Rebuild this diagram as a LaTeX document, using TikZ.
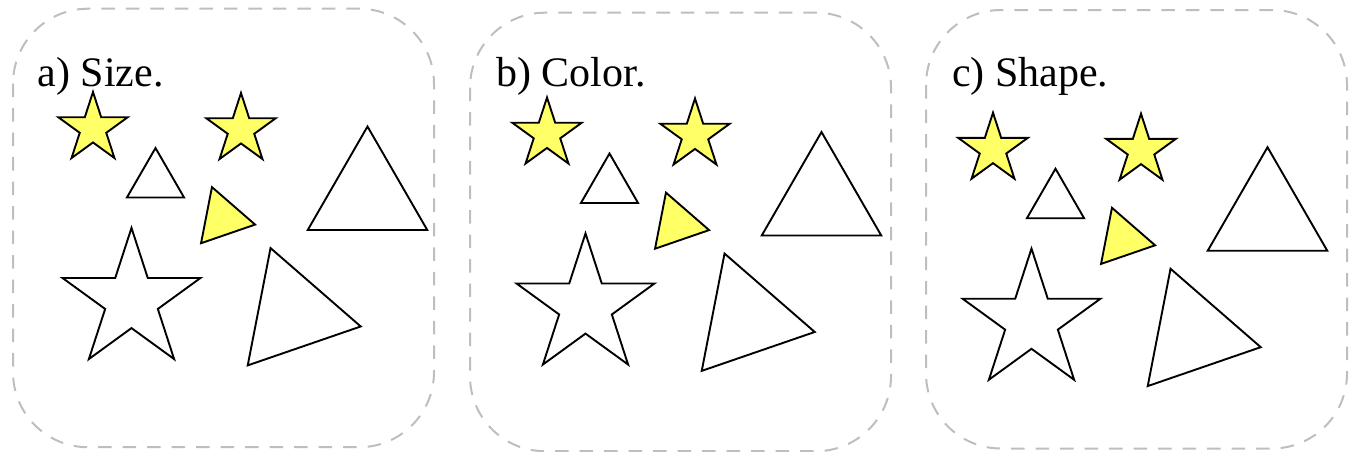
\documentclass[tikz,border=0pt]{standalone}
\usepackage{fontspec}
\setmainfont{Liberation Serif}
\usetikzlibrary{shapes.geometric}
\definecolor{sarga}{RGB}{255,255,102}
\definecolor{keret}{RGB}{190,190,190}
\tikzset{
  panel/.style={draw=keret,line width=2pt,dash pattern=on 13.5pt off 11pt,rounded corners=75pt},
  csillag/.style={star,star points=5,star point ratio=2.618,draw,line width=1.9pt,inner sep=0pt,minimum size=#1},
  harom/.style={regular polygon,regular polygon sides=3,draw,line width=1.9pt,inner sep=0pt,minimum size=#1},
  tolt/.style={fill=sarga},
  cim/.style={anchor=base west,inner sep=0pt,font=\fontsize{42}{50}\selectfont},
}

\begin{document}
\begin{tikzpicture}[x=1pt,y=-1pt]
  \useasboundingbox (0,0) rectangle (1353,451);
  \foreach \i/\bx/\by/\tx/\dx/\dy/\szov in {a/13/8.7/37.5/0/0/{a) Size.},
      b/470/12.7/496/454/5.5/{b) Color.}, c/926/10/952/900/20.7/{c) Shape.}} {
    \draw[panel] (\bx,\by) rectangle +(421,438.5);
    \node[cim] (cim\i) at (\tx,86) {\szov};
    \begin{scope}[shift={(\dx,\dy)}]
      \node[csillag=73pt,tolt] (ca\i) at (93,128.5) {};
      \node[csillag=73pt,tolt] (cb\i) at (241,129.5) {};
      \node[harom=66pt] (ha\i) at (155.5,181) {};
      \node[harom=66pt,tolt,shape border rotate=19] (hb\i) at (222.7,218.3) {};
      \node[harom=138pt] (hc\i) at (367.5,195.5) {};
      \node[harom=138pt,shape border rotate=19] (hd\i) at (293,313.3) {};
      \node[csillag=145pt] (cc\i) at (131.5,300.4) {};
    \end{scope}
  }
\end{tikzpicture}
\end{document}
